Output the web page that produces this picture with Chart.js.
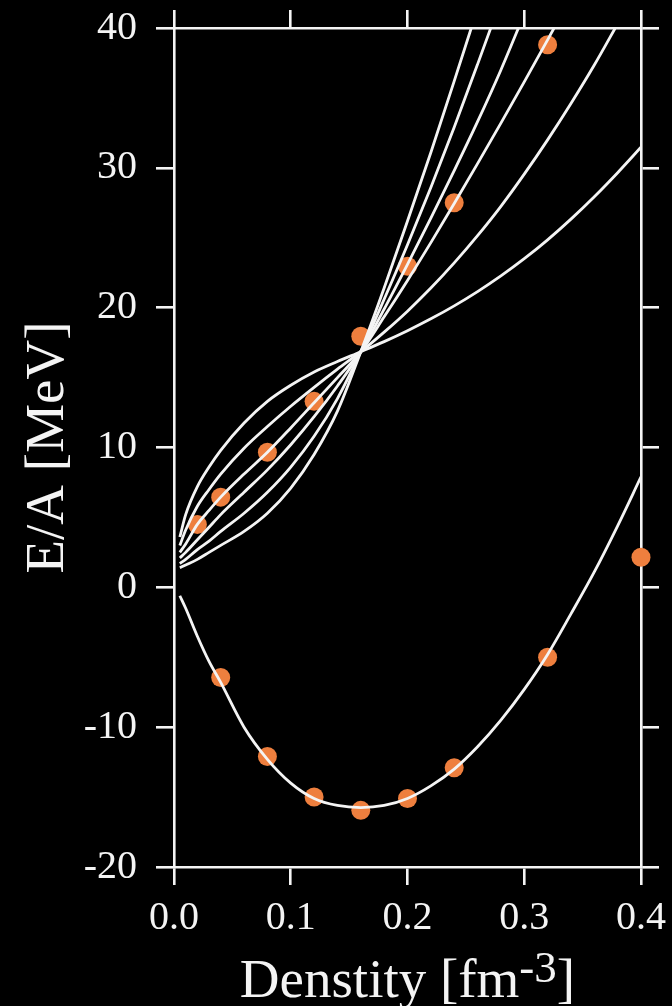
<!DOCTYPE html>
<html>
<head>
<meta charset="utf-8">
<script src="https://cdn.jsdelivr.net/npm/chart.js@4.4.1/dist/chart.umd.min.js"></script>
<style>
  html, body { margin: 0; padding: 0; background: #000; }
  #eos { display: block; }
</style>
</head>
<body>
<canvas id="eos" width="672" height="1006"></canvas>
<script>
// density grid (fm^-3) shared by all model curves
const density = [0.005, 0.01, 0.02, 0.03, 0.04, 0.06, 0.08, 0.10, 0.12, 0.14, 0.16,
                 0.18, 0.20, 0.22, 0.24, 0.26, 0.28, 0.30, 0.32, 0.34, 0.36, 0.38, 0.40];

// symmetric matter curve
const symMatter = [-0.6, -1.5, -3.5, -5.3, -6.8, -10.0, -12.3, -14.0, -15.1, -15.6, -15.75,
                   -15.6, -15.1, -14.2, -13.0, -11.4, -9.5, -7.3, -4.8, -1.9, 1.1, 4.4, 7.9];

// neutron matter curves, stiffest first
const pnm1 = [1.4, 1.6, 2.0, 2.5, 3.0, 4.0, 5.3, 7.1, 9.5, 12.6, 16.85, 21.4, 26.2, 31.1, 36.2, 41.4];
const pnm2 = [1.7, 2.0, 2.7, 3.3, 4.0, 5.3, 6.8, 8.6, 10.8, 13.5, 16.85, 20.6, 24.5, 28.6, 32.9, 37.4, 42.0];
const pnm3 = [2.1, 2.5, 3.4, 4.3, 5.2, 6.8, 8.4, 10.2, 12.2, 14.4, 16.85, 19.9, 23.1, 26.4, 29.8, 33.3, 37.0, 41.0];
const pnm4 = [2.5, 3.1, 4.5, 5.5, 6.45, 8.1, 9.66, 11.4, 13.2, 15.0, 16.85, 19.35, 21.95, 24.65, 27.45, 30.3, 33.2, 36.15, 39.15, 42.2];
const pnm5 = [3.0, 4.1, 5.8, 7.0, 8.1, 9.95, 11.5, 12.95, 14.3, 15.6, 16.85, 18.25, 19.75, 21.4, 23.2, 25.15, 27.25, 29.55, 32.0, 34.6, 37.35, 40.3];
const pnm6 = [3.6, 5.2, 7.2, 8.6, 9.8, 11.75, 13.3, 14.45, 15.4, 16.15, 16.85, 17.57, 18.35, 19.2, 20.13, 21.15, 22.27, 23.5, 24.85, 26.33, 27.93, 29.65, 31.47];

// calculated points
const pnmDensity = [0.02, 0.04, 0.08, 0.12, 0.16, 0.20, 0.24, 0.32];
const pnmPoints  = [4.5, 6.45, 9.66, 13.3, 17.95, 22.96, 27.5, 38.8];
const snmDensity = [0.04, 0.08, 0.12, 0.16, 0.20, 0.24, 0.32, 0.40];
const snmPoints  = [-6.45, -12.1, -15.0, -15.95, -15.1, -12.9, -5.0, 2.15];

const xTicks = [0, 0.1, 0.2, 0.3, 0.4];
const yTicks = [-20, -10, 0, 10, 20, 30, 40];

const fg = '#f4f4f4';
const dotColor = '#ee7f3e';
const serif = '"Liberation Serif", "Times New Roman", serif';

function toXY(xs, ys) {
    return ys.map((y, i) => ({ x: xs[i], y: y }));
}

function curve(ys) {
    return {
        type: 'line',
        data: toXY(density, ys),
        borderColor: fg,
        borderWidth: 2.8,
        pointRadius: 0,
        fill: false,
        cubicInterpolationMode: 'monotone',
        clip: 0
    };
}

function dots(xs, ys) {
    return {
        type: 'scatter',
        data: toXY(xs, ys),
        backgroundColor: dotColor,
        borderWidth: 0,
        pointRadius: 9.5,
        clip: false
    };
}

// axis titles drawn by hand so the superscript can be raised
const axisTitles = {
    id: 'axisTitles',
    afterDraw(chart) {
        const ctx = chart.ctx;
        const area = chart.chartArea;
        ctx.save();
        ctx.fillStyle = fg;
        ctx.textBaseline = 'alphabetic';

        const main = '55px ' + serif;
        const sup = '45px ' + serif;
        ctx.font = main;
        const w1 = ctx.measureText('Denstity [fm').width;
        const w3 = ctx.measureText(']').width;
        ctx.font = sup;
        const w2 = ctx.measureText('-3').width;
        let x = (area.left + area.right) / 2 - (w1 + w2 + w3) / 2;
        const base = 997;
        ctx.textAlign = 'left';
        ctx.font = main;
        ctx.fillText('Denstity [fm', x, base);
        x += w1;
        ctx.font = sup;
        ctx.fillText('-3', x, base - 15);
        x += w2;
        ctx.font = main;
        ctx.fillText(']', x, base);

        ctx.translate(63, (area.top + area.bottom) / 2);
        ctx.rotate(-Math.PI / 2);
        ctx.textAlign = 'center';
        ctx.font = main;
        ctx.fillText('E/A [MeV]', 0, 0);
        ctx.restore();
    }
};

function axisStyle(extra) {
    return Object.assign({
        type: 'linear',
        grid: { drawOnChartArea: false, color: fg, lineWidth: 2.6, tickLength: 18 },
        border: { color: fg, width: 2.6 }
    }, extra);
}

// fixed axis sizes, no extra room for overhanging labels
function fixSize(w, h) {
    return s => {
        if (w !== null) s.width = w;
        if (h !== null) s.height = h;
        s.paddingTop = 0; s.paddingBottom = 0;
        s.paddingLeft = 0; s.paddingRight = 0;
    };
}

new Chart(document.getElementById('eos'), {
    data: {
        datasets: [
            curve(symMatter),
            curve(pnm1), curve(pnm2), curve(pnm3),
            curve(pnm4), curve(pnm5), curve(pnm6),
            dots(pnmDensity, pnmPoints),
            dots(snmDensity, snmPoints)
        ]
    },
    options: {
        responsive: false,
        animation: false,
        devicePixelRatio: 1,
        layout: { padding: 0 },
        plugins: { legend: { display: false }, tooltip: { enabled: false } },
        scales: {
            x: axisStyle({
                position: 'bottom', min: 0, max: 0.4,
                afterBuildTicks: s => { s.ticks = xTicks.map(v => ({ value: v })); },
                ticks: { color: fg, font: { family: serif, size: 40 }, padding: 9,
                         maxRotation: 0, callback: v => v.toFixed(1) },
                afterFit: fixSize(null, 139)
            }),
            xTop: axisStyle({
                position: 'top', min: 0, max: 0.4,
                afterBuildTicks: s => { s.ticks = xTicks.map(v => ({ value: v })); },
                ticks: { display: false },
                afterFit: fixSize(null, 28)
            }),
            y: axisStyle({
                position: 'left', min: -20, max: 40,
                afterBuildTicks: s => { s.ticks = yTicks.map(v => ({ value: v })); },
                ticks: { color: fg, font: { family: serif, size: 40 }, padding: 19 },
                afterFit: fixSize(174, null)
            }),
            yRight: axisStyle({
                position: 'right', min: -20, max: 40,
                afterBuildTicks: s => { s.ticks = yTicks.map(v => ({ value: v })); },
                ticks: { display: false },
                afterFit: fixSize(31, null)
            })
        }
    },
    plugins: [axisTitles]
});
</script>
</body>
</html>
